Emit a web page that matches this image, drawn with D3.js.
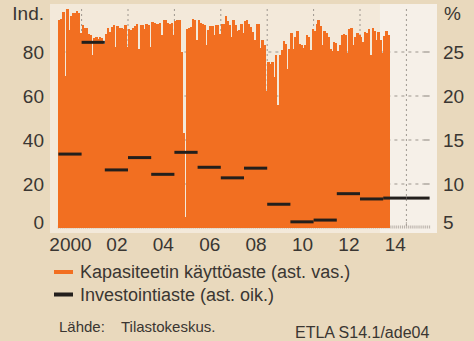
<!DOCTYPE html>
<html>
<head>
<meta charset="utf-8">
<script src="https://cdn.jsdelivr.net/npm/d3@7"></script>
<style>
  html, body { margin: 0; padding: 0; background: #e9d9bd; }
  svg { display: block; font-family: "Liberation Sans", Arial, sans-serif; }
</style>
</head>
<body>
<svg id="chart" width="474" height="341"></svg>
<script>
// Capacity utilisation, monthly index (left axis), Jan 2000 – Mar 2014
const capacityStart = 2000;
const capacity = [
  // 2000
  94.4, 94.9, 98.2, 69.0, 99.4, 89.9, 96.4, 97.7, 97.7, 98.5, 97.7, 88.8,
  // 2001
  92.1, 90.9, 90.9, 88.0, 87.9, 78.5, 86.4, 86.8, 86.0, 86.8, 86.4, 83.8,
  // 2002
  88.3, 90.9, 89.0, 91.4, 92.1, 82.3, 91.8, 90.9, 90.9, 90.6, 92.1, 82.3,
  // 2003
  90.6, 90.2, 91.0, 92.0, 92.6, 81.5, 92.1, 92.1, 90.6, 92.6, 92.1, 82.3,
  // 2004
  93.6, 93.3, 92.9, 92.9, 93.3, 87.6, 94.4, 94.4, 93.3, 92.6, 93.3, 87.6,
  // 2005
  93.9, 94.4, 94.4, 80.0, 43.0, 5.0, 90.6, 91.0, 91.4, 95.1, 94.4, 85.3,
  // 2006
  94.4, 93.3, 92.6, 92.1, 83.3, 90.2, 91.8, 91.8, 87.6, 92.1, 92.1, 88.0,
  // 2007
  92.9, 92.9, 96.4, 94.0, 92.1, 87.0, 94.4, 92.1, 89.4, 89.9, 92.9, 88.8,
  // 2008
  94.0, 94.4, 92.9, 91.4, 89.0, 85.6, 92.6, 92.6, 81.7, 85.3, 83.0, 62.1,
  // 2009
  75.5, 74.7, 75.5, 68.6, 78.5, 55.8, 78.5, 80.8, 84.8, 83.6, 72.4, 81.5,
  // 2010
  88.8, 81.5, 86.8, 89.4, 83.6, 83.0, 81.8, 83.3, 87.6, 86.8, 80.8, 90.6,
  // 2011
  89.4, 92.9, 94.4, 92.0, 83.3, 89.4, 88.5, 87.0, 81.5, 80.5, 84.5, 84.2,
  // 2012
  80.3, 83.3, 87.6, 88.2, 87.6, 79.7, 90.6, 91.0, 83.0, 86.8, 88.8, 87.6,
  // 2013
  86.8, 84.5, 89.0, 88.8, 90.5, 78.5, 91.0, 89.4, 85.3, 89.0, 85.3, 79.7,
  // 2014
  87.3, 89.4, 87.6
];

// Investment rate, % (right axis), one value per year
const investYears = [2000, 2001, 2002, 2003, 2004, 2005, 2006, 2007,
                     2008, 2009, 2010, 2011, 2012, 2013, 2014, 2015];
const investRate  = [13.4, 26.1, 11.6, 13.0, 11.1, 13.6, 11.9, 10.7,
                     11.8, 7.7, 5.7, 5.9, 8.9, 8.3, 8.4, 8.4];

// Axis labels
const xTickYears  = [2000, 2002, 2004, 2006, 2008, 2010, 2012, 2014];
const xTickLabels = ["2000", "02", "04", "06", "08", "10", "12", "14"];
const leftTicks   = [0, 20, 40, 60, 80];
const rightTicks  = [5, 10, 15, 20, 25];
const gridYears   = [2001, 2003, 2005, 2007, 2009, 2011, 2013, 2015];

const legendLabels = ["Kapasiteetin käyttöaste (ast. vas.)", "Investointiaste (ast. oik.)"];
const sourceText = "Lähde:";
const sourceName = "Tilastokeskus.";
const chartCode = "ETLA S14.1/ade04";

// Outlook period (lighter background)
const outlookFrom = 2013.86;

const C = {
  panel: "#f3e9da",
  outlook: "#f6f0e8",
  orange: "#f26f21",
  black: "#231f1c",
  grid: "#9d968e",
  text: "#3a3632"
};

const svg = d3.select("#chart");

const x  = d3.scaleLinear().domain([2000, 2016]).range([58.4, 429.6]);
const yL = d3.scaleLinear().domain([0, 80]).range([228, 52]);
const yR = d3.scaleLinear().domain([5, 25]).range([228, 52]);

// Panel backgrounds
const panel = { x0: 50, x1: 437, y0: 4, y1: 233 };
svg.append("rect")
  .attr("x", panel.x0).attr("y", panel.y0)
  .attr("width", panel.x1 - panel.x0).attr("height", panel.y1 - panel.y0)
  .attr("fill", C.panel);
svg.append("rect")
  .attr("x", x(outlookFrom)).attr("y", panel.y0)
  .attr("width", panel.x1 - x(outlookFrom)).attr("height", panel.y1 - panel.y0)
  .attr("fill", C.outlook);

// Grid: dashed horizontals on the right-axis levels, dotted verticals at odd years
const grid = svg.append("g");
grid.selectAll("line.h").data(rightTicks.filter(d => d > 5)).join("line")
  .attr("class", "h")
  .attr("x1", x(2000)).attr("x2", x(2016) - 6)
  .attr("y1", d => yR(d)).attr("y2", d => yR(d))
  .attr("stroke", C.grid).attr("stroke-width", 1)
  .attr("stroke-dasharray", "3,4");
grid.selectAll("line.hr").data(rightTicks.filter(d => d > 5)).join("line")
  .attr("class", "hr")
  .attr("x1", x(2016) - 6).attr("x2", x(2016))
  .attr("y1", d => yR(d)).attr("y2", d => yR(d))
  .attr("stroke", C.grid).attr("stroke-width", 1.2);
grid.selectAll("line.v").data(gridYears).join("line")
  .attr("class", "v")
  .attr("x1", d => x(d)).attr("x2", d => x(d))
  .attr("y1", 9).attr("y2", 228)
  .attr("stroke", C.grid).attr("stroke-width", 1)
  .attr("stroke-dasharray", "2,3");

// Monthly minor ticks along the base line
const months = d3.range(0, 16 * 12 + 1).map(i => 2000 + i / 12);
grid.selectAll("line.m").data(months).join("line")
  .attr("class", "m")
  .attr("x1", d => x(d)).attr("x2", d => x(d))
  .attr("y1", (d, i) => (i % 24 === 12) ? 222 : 225.5).attr("y2", 228.5)
  .attr("stroke", "#a8a098").attr("stroke-width", 0.8);

// Capacity utilisation bars
const monthW = x(2000 + 1 / 12) - x(2000);
svg.append("g")
  .attr("shape-rendering", "crispEdges")
  .selectAll("rect").data(capacity).join("rect")
  .attr("x", (d, i) => x(capacityStart + i / 12))
  .attr("width", monthW + 0.5)
  .attr("y", d => yL(d))
  .attr("height", d => yL(0) - yL(d))
  .attr("fill", C.orange);

// Investment rate: one horizontal segment per year
const inv = investYears.map((yr, i) => ({ yr, v: investRate[i] }));
svg.append("g").selectAll("line").data(inv).join("line")
  .attr("x1", d => x(d.yr)).attr("x2", d => x(d.yr + 1))
  .attr("y1", d => yR(d.v)).attr("y2", d => yR(d.v))
  .attr("stroke", C.black).attr("stroke-width", 3);

// Axes
function styleAxis(g) {
  g.select(".domain").remove();
  g.selectAll(".tick line").remove();
  g.selectAll("text")
    .attr("fill", C.text)
    .attr("font-size", 19)
    .attr("font-family", "'Liberation Sans', Arial, sans-serif");
}

svg.append("g")
  .attr("transform", "translate(0,237)")
  .call(d3.axisBottom(x)
    .tickValues(xTickYears.map(d => d + 0.5))
    .tickFormat((d, i) => xTickLabels[i])
    .tickSize(0).tickPadding(0))
  .call(styleAxis)
  .selectAll("text").attr("dy", "0.71em");

svg.append("g")
  .attr("transform", "translate(44,0)")
  .call(d3.axisLeft(yL).tickValues(leftTicks).tickSize(0).tickPadding(0))
  .call(styleAxis)
  .selectAll("text").attr("dy", d => d === 0 ? "0.05em" : "0.34em");

svg.append("g")
  .attr("transform", "translate(443,0)")
  .call(d3.axisRight(yR).tickValues(rightTicks).tickSize(0).tickPadding(0))
  .call(styleAxis)
  .selectAll("text").attr("dy", d => d === 5 ? "0.05em" : "0.34em");

// Axis units
svg.append("text").attr("x", 44).attr("y", 19.5)
  .attr("text-anchor", "end").attr("font-size", 19).attr("fill", C.text)
  .text("Ind.");
svg.append("text").attr("x", 444).attr("y", 19.5)
  .attr("font-size", 19).attr("fill", C.text)
  .text("%");

// Legend
const legend = svg.append("g");
const legendColors = [C.orange, C.black];
const legendY = [272, 294.5];
legendLabels.forEach((t, i) => {
  legend.append("rect")
    .attr("x", 54).attr("y", legendY[i] - 2)
    .attr("width", 19).attr("height", 4)
    .attr("fill", legendColors[i]);
  legend.append("text")
    .attr("x", 80).attr("y", legendY[i] + 6.3)
    .attr("font-size", 18).attr("fill", C.text)
    .text(t);
});

// Source and chart code
svg.append("text").attr("x", 59).attr("y", 332)
  .attr("font-size", 15).attr("fill", C.text).text(sourceText);
svg.append("text").attr("x", 121).attr("y", 332)
  .attr("font-size", 15).attr("fill", C.text).text(sourceName);
svg.append("text").attr("x", 295).attr("y", 338)
  .attr("font-size", 16).attr("fill", C.text).text(chartCode);
</script>
</body>
</html>
